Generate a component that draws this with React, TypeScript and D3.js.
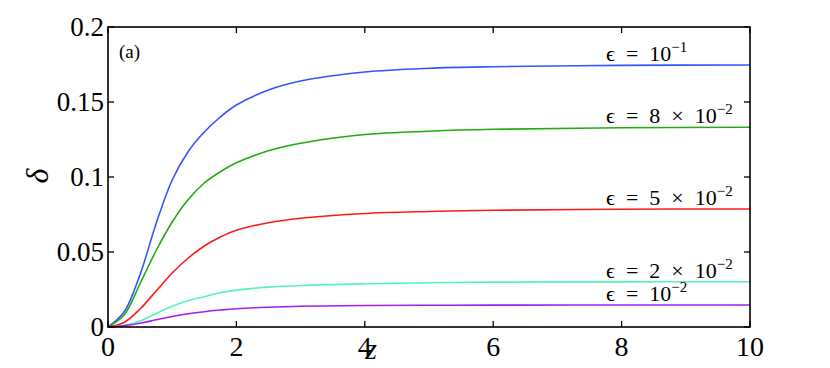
import React from 'react';
import * as d3 from 'd3';

const zs = [0, 0.25, 0.5, 0.75, 1, 1.25, 1.5, 1.75, 2, 2.5, 3, 4, 5, 6, 8, 10];

const blue = [0, 0.010, 0.035, 0.069, 0.098, 0.117, 0.130, 0.140, 0.148, 0.158, 0.164, 0.170, 0.1725, 0.1735, 0.1744, 0.1747];
const green = [0, 0.008, 0.029, 0.051, 0.070, 0.085, 0.096, 0.1035, 0.1095, 0.1175, 0.1225, 0.1283, 0.1305, 0.1318, 0.1328, 0.1332];
const red = [0, 0.003, 0.012, 0.024, 0.036, 0.046, 0.054, 0.060, 0.0645, 0.0695, 0.0725, 0.0757, 0.077, 0.0778, 0.0785, 0.0787];
const cyan = [0, 0.001, 0.004, 0.009, 0.0138, 0.0175, 0.0202, 0.0228, 0.0246, 0.0266, 0.0277, 0.0288, 0.0295, 0.0299, 0.0301, 0.0302];
const purple = [0, 0.0008, 0.0025, 0.0048, 0.0070, 0.0088, 0.0102, 0.0113, 0.0122, 0.0132, 0.0138, 0.0143, 0.0145, 0.0146, 0.0147, 0.0147];

const series = [
  { name: 'blue', values: blue, color: '#3355ff', mant: '', exp: '−1' },
  { name: 'green', values: green, color: '#22aa11', mant: '8\u2002×\u2002', exp: '−2' },
  { name: 'red', values: red, color: '#ff1a1a', mant: '5\u2002×\u2002', exp: '−2' },
  { name: 'cyan', values: cyan, color: '#55f5b0', mant: '2\u2002×\u2002', exp: '−2' },
  { name: 'purple', values: purple, color: '#a020f0', mant: '', exp: '−2' },
];

const xTicks = [0, 2, 4, 6, 8, 10];
const yTicks = [0, 0.05, 0.1, 0.15, 0.2];
const yTickLabels = ['0', '0.05', '0.1', '0.15', '0.2'];

const W = 830, H = 368;
const m = { left: 108, right: 80, top: 27, bottom: 41 };
const serif = { fontFamily: "'Liberation Serif', 'Times New Roman', serif" };

export default function App() {
  const x = d3.scaleLinear().domain([0, 10]).range([m.left, W - m.right]);
  const y = d3.scaleLinear().domain([0, 0.2]).range([H - m.bottom, m.top]);
  const line = d3.line<number>()
    .x((_, i) => x(zs[i]))
    .y(d => y(d))
    .curve(d3.curveCatmullRom.alpha(0.5));
  const x0 = x(0), x1 = x(10), y0 = y(0), y1 = y(0.2);
  const tl = 6;

  return (
    <svg width={W} height={H} style={{ position: 'absolute', left: 0, top: 0, background: '#fff' }}>
      {series.map(s => (
        <path key={s.name} d={line(s.values) || ''} fill="none" stroke={s.color} strokeWidth={1.6} />
      ))}
      {/* box + ticks */}
      <rect x={x0} y={y1} width={x1 - x0} height={y0 - y1} fill="none" stroke="#000" strokeWidth={1.6} />
      {xTicks.map(t => (
        <g key={'x' + t}>
          <line x1={x(t)} x2={x(t)} y1={y0} y2={y0 - tl} stroke="#000" strokeWidth={1.3} />
          <line x1={x(t)} x2={x(t)} y1={y1} y2={y1 + tl} stroke="#000" strokeWidth={1.3} />
          <text x={x(t)} y={356} fontSize={28} textAnchor="middle" style={serif}>{t}</text>
        </g>
      ))}
      {yTicks.map((t, i) => (
        <g key={'y' + t}>
          <line x1={x0} x2={x0 + tl} y1={y(t)} y2={y(t)} stroke="#000" strokeWidth={1.3} />
          <line x1={x1} x2={x1 - tl} y1={y(t)} y2={y(t)} stroke="#000" strokeWidth={1.3} />
          <text x={104} y={y(t) + 9} fontSize={27} textAnchor="end" style={serif}>{yTickLabels[i]}</text>
        </g>
      ))}
      <text x={371} y={359} fontSize={30} fontStyle="italic" textAnchor="middle" style={serif}>z</text>
      <text transform={`translate(48,176) rotate(-90)`} fontSize={32} fontStyle="italic" textAnchor="middle" style={serif}>δ</text>
      <text x={119} y={58} fontSize={19} style={serif}>(a)</text>
      {series.map(s => (
        <text key={'l' + s.name} x={606} y={y(s.values[s.values.length - 1]) - 4} fontSize={22} style={serif}>
          {'ϵ\u2002=\u2002' + s.mant + '10'}
          <tspan fontSize={15} dy={-9}>{s.exp}</tspan>
        </text>
      ))}
    </svg>
  );
}
